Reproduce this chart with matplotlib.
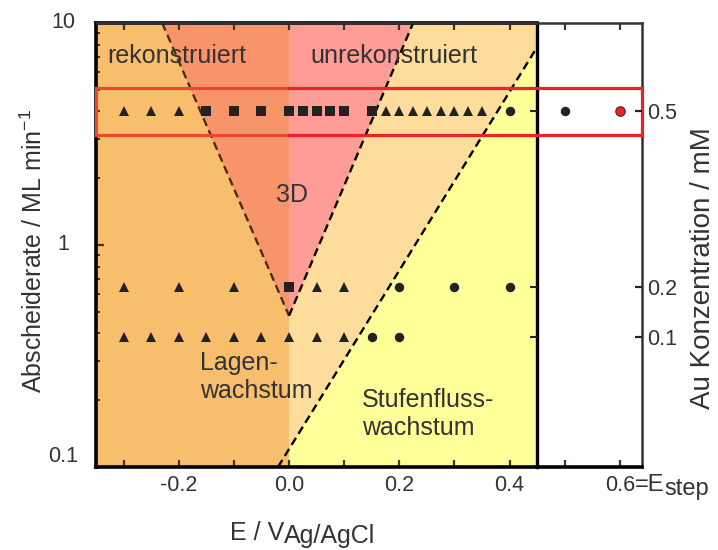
import numpy as np
import matplotlib
matplotlib.use("Agg")
import matplotlib.pyplot as plt
from matplotlib.transforms import blended_transform_factory
from matplotlib.ticker import FixedLocator, LogLocator, NullFormatter
from matplotlib.lines import TICKLEFT

plt.rcParams["font.family"] = ["Liberation Sans", "DejaVu Sans"]
plt.rcParams["mathtext.fontset"] = "custom"
plt.rcParams["mathtext.rm"] = "Liberation Sans"
plt.rcParams["text.color"] = "#333333"

# ---- axis ranges ----------------------------------------------------------
E_MIN, E_MAX, E_AXIS_MAX = -0.35, 0.45, 0.64      # V vs Ag/AgCl
RATE_MIN, RATE_MAX = 0.1, 10.0                     # ML/min

# ---- Au concentration (mM) and the resulting deposition rate (ML/min) -----
conc_mM = [0.5, 0.2, 0.1]
rate = [4.0, 0.65, 0.385]

# ---- observed growth mode per potential, one list per concentration -------
layer_E_05 = [-0.30, -0.25, -0.20, 0.175, 0.20, 0.225, 0.25, 0.275, 0.30, 0.325, 0.35]
layer_E_02 = [-0.30, -0.20, -0.10, 0.05, 0.10]
layer_E_01 = [-0.30, -0.25, -0.20, -0.15, -0.10, -0.05, 0.0, 0.05, 0.10]
island_E_05 = [-0.15, -0.10, -0.05, 0.0, 0.025, 0.05, 0.075, 0.10, 0.15]
island_E_02 = [0.0]
island_E_01 = []
stepflow_E_05 = [0.40, 0.50]
stepflow_E_02 = [0.20, 0.30, 0.40]
stepflow_E_01 = [0.15, 0.20]
E_step = 0.6

# ---- growth-mode boundaries -----------------------------------------------
vertex_E, vertex_rate = 0.0, 0.48
wedge_left_top_E, wedge_right_top_E = -0.23, 0.225
step_line_E = [-0.02, 0.45]
step_line_rate = [0.1, 7.8]

highlight_rate = [3.13, 5.1]

# ---- tick labels ----------------------------------------------------------
xtick_vals = [-0.3, -0.2, -0.1, 0.0, 0.1, 0.2, 0.3, 0.4, 0.5, 0.6]
xtick_labels = ["", "-0.2", "", "0.0", "", "0.2", "", "0.4", "", "0.6"]
ytick_vals = [0.1, 1, 10]
ytick_labels = ["0.1", "1", "10"]

# ---- colours --------------------------------------------------------------
c_orange = "#F7BE6E"
c_salmon = "#F7946A"
c_pink = "#FF9C96"
c_light = "#FEDD9C"
c_yellow = "#FFFF9A"
c_mark = "#222222"
c_tick = "#4a3020"
FS_TICK = 15.5
FS_LABEL = 18

fig = plt.figure(figsize=(7.18, 5.5), dpi=100)
ax = fig.add_axes([96 / 718, 1 - 467 / 550, 546 / 718, 444 / 550])
ax.set_yscale("log")
ax.set_xlim(E_MIN, E_AXIS_MAX)
ax.set_ylim(RATE_MIN, RATE_MAX)

# coloured phase regions
ax.fill_between([E_MIN, 0.0], RATE_MIN, RATE_MAX, color=c_orange, lw=0, zorder=0)
ax.fill_between([0.0, E_MAX], RATE_MIN, RATE_MAX, color=c_light, lw=0, zorder=0)
ax.fill([wedge_left_top_E, 0.0, vertex_E], [RATE_MAX, RATE_MAX, vertex_rate],
        color=c_salmon, lw=0, zorder=0.5)
ax.fill([0.0, wedge_right_top_E, vertex_E], [RATE_MAX, RATE_MAX, vertex_rate],
        color=c_pink, lw=0, zorder=0.5)
r0 = 10 ** np.interp(0.0, step_line_E, np.log10(step_line_rate))
ax.fill([0.0, 0.0, step_line_E[1], step_line_E[1]],
        [RATE_MIN, r0, step_line_rate[1], RATE_MIN],
        color=c_yellow, lw=0, zorder=0.5)

# boundaries
ax.plot([wedge_left_top_E, vertex_E], [RATE_MAX, vertex_rate], color="#4d2c14",
        lw=1.7, dashes=(3.5, 2), zorder=2)
ax.plot([vertex_E, wedge_right_top_E], [vertex_rate, RATE_MAX], color="black",
        lw=1.7, dashes=(3.5, 2), zorder=2)
ax.plot(step_line_E, step_line_rate, color="black", lw=1.7, dashes=(3.5, 2), zorder=2)

# frame of the coloured field
ax.plot([E_MIN, E_MAX], [RATE_MAX, RATE_MAX], color="black", lw=2.6, clip_on=False, zorder=3)
ax.plot([E_MAX, E_MAX], [RATE_MIN, RATE_MAX], color="black", lw=2.4, clip_on=False, zorder=3)
ax.plot([E_MAX] * len(rate), rate, ls="none", marker=TICKLEFT, ms=5, mew=1.5,
        color=c_mark, zorder=3)

# measurements
layer_rows = [layer_E_05, layer_E_02, layer_E_01]
island_rows = [island_E_05, island_E_02, island_E_01]
step_rows = [stepflow_E_05, stepflow_E_02, stepflow_E_01]
for r, Es in zip(rate, layer_rows):
    ax.plot(Es, [r] * len(Es), ls="none", marker="^", ms=7, color=c_mark, mew=0, zorder=4)
for r, Es in zip(rate, island_rows):
    ax.plot(Es, [r] * len(Es), ls="none", marker="s", ms=6.5, color=c_mark, mew=0, zorder=4)
for r, Es in zip(rate, step_rows):
    ax.plot(Es, [r] * len(Es), ls="none", marker="o", ms=6.8, color=c_mark, mew=0,
            zorder=4, clip_on=False)
ax.plot([E_step], [rate[0]], ls="none", marker="o", ms=6.8, mfc="#e8262a",
        mec="#5a1a1a", mew=0.8, zorder=4)

# highlighted 0.5 mM series
lo, hi = highlight_rate
ax.plot([0.0, E_MIN, E_MIN, 0.0], [hi, hi, lo, lo], color="#e84a2b", lw=2.3,
        clip_on=False, zorder=6, solid_joinstyle="miter")
ax.plot([0.0, E_AXIS_MAX, E_AXIS_MAX, 0.0], [hi, hi, lo, lo], color="#e8232a", lw=2.3,
        clip_on=False, zorder=6, solid_joinstyle="miter")

# region labels
ax.text(-0.33, 6.6, "rekonstruiert", fontsize=FS_LABEL, va="baseline", ha="left", zorder=5)
ax.text(0.038, 6.6, "unrekonstruiert", fontsize=FS_LABEL, va="baseline", ha="left", zorder=5)
ax.text(0.005, 1.56, "3D", fontsize=FS_LABEL, va="baseline", ha="center", zorder=5)
ax.text(-0.1615, 0.2047, "Lagen-\nwachstum", fontsize=FS_LABEL, va="baseline", ha="left",
        linespacing=1.2, zorder=5)
ax.text(0.1325, 0.1394, "Stufenfluss-\nwachstum", fontsize=FS_LABEL, va="baseline",
        ha="left", linespacing=1.2, zorder=5)

# spines and ticks
for s in ["left", "bottom"]:
    ax.spines[s].set_linewidth(2.6)
    ax.spines[s].set_color("black")
for s in ["top", "right"]:
    ax.spines[s].set_linewidth(1.8)
    ax.spines[s].set_color("#333333")
for s in ax.spines.values():
    s.set_zorder(3)

ax.xaxis.set_major_locator(FixedLocator(xtick_vals))
ax.set_xticklabels(xtick_labels)
ax.tick_params(axis="x", which="major", direction="in", top=True, length=5, width=1.6,
               color=c_tick, labelsize=FS_TICK, labelcolor="#333333", pad=6)
ax.yaxis.set_major_locator(FixedLocator(ytick_vals))
ax.yaxis.set_minor_locator(LogLocator(base=10, subs=np.arange(2, 10)))
ax.yaxis.set_minor_formatter(NullFormatter())
ax.tick_params(axis="y", which="major", direction="in", length=6, width=1.6, color=c_tick,
               labelleft=False)
ax.tick_params(axis="y", which="minor", direction="in", length=3, width=1.4, color=c_tick)

ytr = blended_transform_factory(ax.transAxes, ax.transData)
for v, lab in zip(ytick_vals, ytick_labels):
    ax.text(-0.0604, v, lab, transform=ytr, ha="center",
            va="bottom" if v == RATE_MIN else "center", fontsize=FS_TICK)

# right axis: Au concentration
ax2 = ax.twinx()
ax2.set_yscale("log")
ax2.set_ylim(RATE_MIN, RATE_MAX)
ax2.yaxis.set_major_locator(FixedLocator(rate))
ax2.yaxis.set_minor_locator(FixedLocator([]))
ax2.set_yticklabels([f"{c:g}" for c in conc_mM])
ax2.tick_params(axis="y", direction="in", length=5, width=1.6, color=c_mark,
                labelsize=FS_TICK, labelcolor="#333333", pad=4)
for s in ax2.spines.values():
    s.set_visible(False)

# axis titles
fig.text(34 / 718, 1 - 251 / 550, r"Abscheiderate / ML min$^{\mathregular{-1}}$",
         rotation=90, ha="center", va="center", fontsize=FS_LABEL)
fig.text(703 / 718, 1 - 268 / 550, "Au Konzentration / mM", rotation=90,
         ha="center", va="center", fontsize=20)
t_main = fig.text(230 / 718, 1 - 540 / 550, "E / V", ha="left", va="baseline",
                  fontsize=FS_LABEL)
ax.annotate("Ag/AgCl", xy=(1, 0), xycoords=t_main, xytext=(0, -2.5),
            textcoords="offset points", ha="left", va="bottom", fontsize=FS_LABEL,
            annotation_clip=False)

# "=E_step" appended to the 0.6 tick label
fig.canvas.draw()
lbl06 = [t for t in ax.get_xticklabels() if t.get_text() == "0.6"][0]
t_eq = ax.annotate("=E", xy=(1, 0), xycoords=lbl06, xytext=(0, 0),
                   textcoords="offset points", ha="left", va="bottom", fontsize=17,
                   annotation_clip=False)
ax.annotate("step", xy=(1, 0), xycoords=t_eq, xytext=(0, -2.5),
            textcoords="offset points", ha="left", va="bottom", fontsize=17,
            annotation_clip=False)

fig.savefig("out.png", dpi=100)
